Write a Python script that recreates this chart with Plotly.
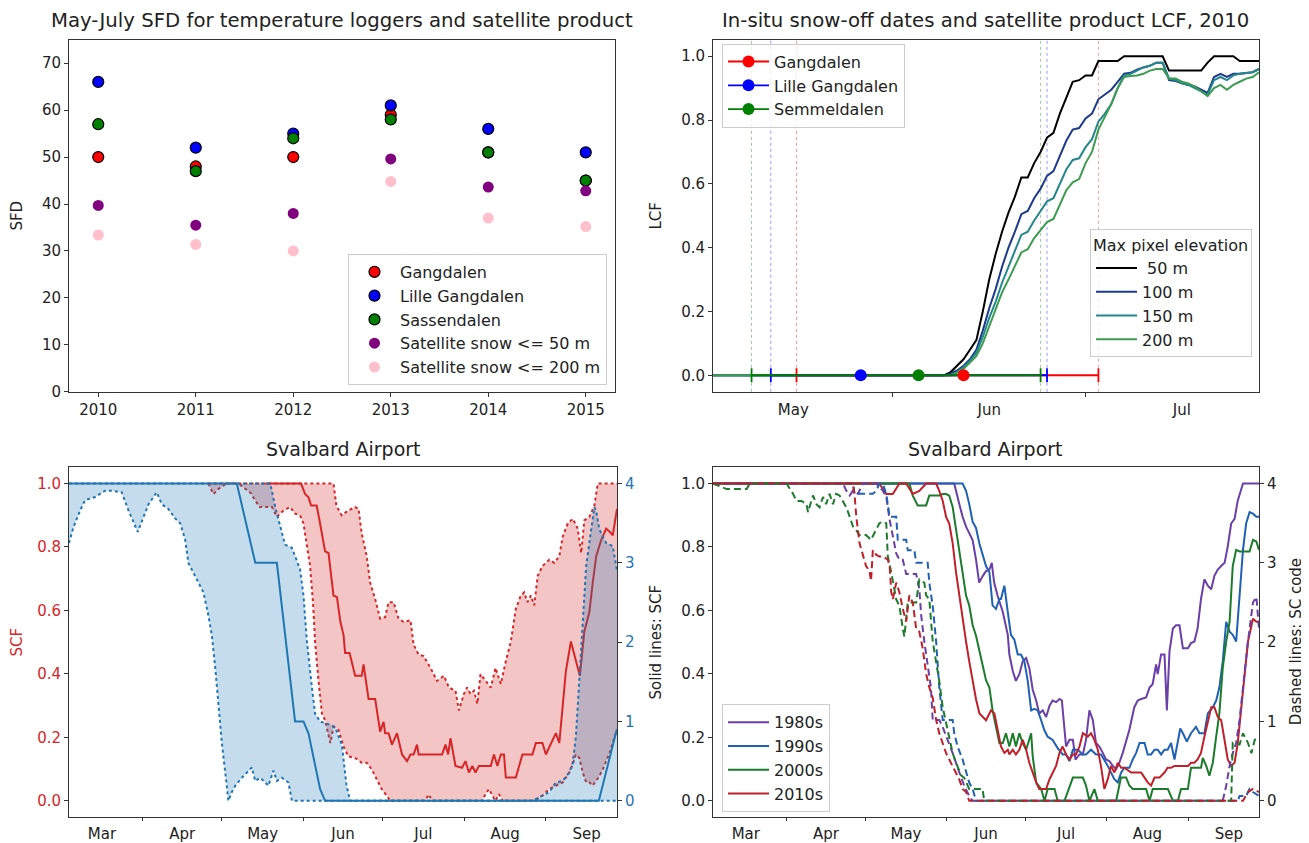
import pandas as pd
import plotly.graph_objects as go

W, H = 1309, 843
FONT = "DejaVu Sans"
OX = -7   # horizontal pixel offset correction

# ---------------- Panel 1: May-July SFD ----------------
years = [2010, 2011, 2012, 2013, 2014, 2015]
sfd_gangdalen = [50, 48, 50, 59, 51, 45]
sfd_lille_gangdalen = [66, 52, 55, 61, 56, 51]
sfd_sassendalen = [57, 47, 54, 58, 51, 45]
sfd_sat_50 = [39.7, 35.5, 38.0, 49.6, 43.6, 42.8]
sfd_sat_200 = [33.4, 31.4, 30.0, 44.8, 37.0, 35.2]

# ---------------- Panel 2: LCF 2010 ----------------
lcf_base = "2010-06-01"          # day 0
lcf_day = [-28] + list(range(8, 58))
lcf_50 = [0,
          0, 0.01, 0.03, 0.05, 0.08, 0.11, 0.2, 0.3, 0.38, 0.45,
          0.51, 0.56, 0.62, 0.62, 0.665, 0.7, 0.745, 0.76, 0.82, 0.87,
          0.92, 0.925, 0.94, 0.94, 0.985, 0.985, 0.985, 0.985, 1.0, 1.0,
          1.0, 1.0, 1.0, 1.0, 1.0, 0.955, 0.955, 0.955, 0.955, 0.955,
          0.955, 0.98, 1.0, 1.0, 1.0, 1.0, 0.985, 0.985, 0.985, 0.985]
lcf_100 = [0,
           0, 0.005, 0.015, 0.03, 0.05, 0.08, 0.14, 0.21, 0.27, 0.34,
           0.4, 0.45, 0.505, 0.515, 0.555, 0.585, 0.625, 0.64, 0.69, 0.735,
           0.77, 0.775, 0.805, 0.82, 0.865, 0.88, 0.895, 0.92, 0.945, 0.948,
           0.958, 0.965, 0.97, 0.98, 0.98, 0.925, 0.922, 0.915, 0.91, 0.905,
           0.895, 0.885, 0.935, 0.945, 0.935, 0.945, 0.945, 0.948, 0.95, 0.96]
lcf_150 = [0,
           0, 0, 0.01, 0.025, 0.045, 0.07, 0.12, 0.18, 0.23, 0.29,
           0.34, 0.39, 0.44, 0.45, 0.485, 0.515, 0.545, 0.555, 0.6, 0.645,
           0.675, 0.68, 0.715, 0.74, 0.795, 0.82, 0.85, 0.9, 0.94, 0.945,
           0.955, 0.965, 0.97, 0.98, 0.98, 0.93, 0.925, 0.915, 0.91, 0.9,
           0.89, 0.88, 0.925, 0.935, 0.925, 0.94, 0.945, 0.948, 0.95, 0.96]
lcf_200 = [0,
           0, 0, 0.008, 0.02, 0.04, 0.06, 0.1, 0.155, 0.21, 0.26,
           0.3, 0.345, 0.385, 0.395, 0.43, 0.455, 0.48, 0.49, 0.535, 0.58,
           0.605, 0.615, 0.665, 0.7, 0.77, 0.81, 0.85, 0.9, 0.935, 0.938,
           0.94, 0.945, 0.955, 0.96, 0.96, 0.93, 0.93, 0.92, 0.915, 0.905,
           0.89, 0.875, 0.9, 0.91, 0.895, 0.91, 0.92, 0.93, 0.935, 0.95]

site_names = ["Gangdalen", "Lille Gangdalen", "Semmeldalen"]
site_colors = ["red", "blue", "green"]
snowoff_date = ["2010-06-12", "2010-05-27", "2010-06-05"]
snowoff_early = ["2010-05-17", "2010-05-13", "2010-05-10"]
snowoff_late = ["2010-07-03", "2010-06-25", "2010-06-24"]

# ---------------- Panel 3: Svalbard Airport SCF / SC code ----------------
season_base = "2001-03-01"       # day 0 = 1 March
season_range = [3, 211]
scf_median = [(77.5, 1.0), (91.1, 1.0), (92.6, 0.967), (93.9, 0.957), (94.9, 0.931), (97.0, 0.931),
              (98.3, 0.874), (100.2, 0.786), (101.5, 0.781), (102.5, 0.719), (103.4, 0.647), (104.7, 0.642),
              (106.0, 0.564), (107.2, 0.523), (107.8, 0.466), (109.5, 0.466), (111.6, 0.394), (114.1, 0.394),
              (114.8, 0.43), (116.7, 0.321), (119.2, 0.321), (121.1, 0.218), (122.4, 0.249), (123.0, 0.213),
              (124.3, 0.213), (125.6, 0.177), (127.5, 0.213), (129.4, 0.146), (131.3, 0.125), (132.6, 0.146),
              (133.8, 0.146), (135.1, 0.177), (135.7, 0.146), (144.6, 0.146), (145.9, 0.177), (146.9, 0.146),
              (147.8, 0.197), (149.7, 0.11), (152.2, 0.104), (153.5, 0.125), (154.8, 0.089), (156.1, 0.11),
              (157.3, 0.089), (158.6, 0.11), (163.1, 0.11), (164.3, 0.146), (165.6, 0.11), (166.9, 0.146),
              (168.1, 0.146), (168.8, 0.073), (172.6, 0.073), (175.1, 0.146), (178.9, 0.146), (180.2, 0.182),
              (182.7, 0.182), (184.0, 0.146), (185.9, 0.182), (187.8, 0.213), (189.1, 0.182), (190.4, 0.295),
              (191.6, 0.409), (193.5, 0.502), (195.4, 0.44), (196.9, 0.394), (198.6, 0.533), (200.5, 0.595),
              (201.8, 0.688), (203.1, 0.771), (205.0, 0.822), (206.9, 0.858), (208.2, 0.848), (209.4, 0.837),
              (211.0, 0.92)]
scf_upper = [(55.9, 1.0), (103.4, 1.0), (104.5, 0.93), (106.5, 0.9), (109, 0.915), (111.6, 0.926), (112.9, 0.92),
             (114.1, 0.843), (116, 0.771), (117.3, 0.688), (119.2, 0.636), (121.1, 0.574), (123, 0.579),
             (124.3, 0.626), (126.2, 0.626), (128.1, 0.574), (130, 0.564), (132.6, 0.569), (133.8, 0.492),
             (135.7, 0.461), (137.6, 0.456), (140.2, 0.419), (142.7, 0.378), (145.3, 0.394), (147.2, 0.357),
             (149.7, 0.347), (151, 0.285), (152.9, 0.337), (154.1, 0.357), (155.4, 0.337), (156.7, 0.347),
             (158, 0.306), (159.2, 0.399), (161.1, 0.378), (163.1, 0.357), (164.9, 0.419), (166.9, 0.368),
             (168.8, 0.44), (170.7, 0.502), (172.6, 0.605), (174.5, 0.647), (175.8, 0.657), (177, 0.626),
             (178.3, 0.647), (179.6, 0.616), (180.9, 0.709), (182.7, 0.74), (185.3, 0.76), (187.2, 0.75),
             (189.1, 0.771), (190.4, 0.833), (192.3, 0.874), (194.2, 0.889), (196.1, 0.858), (197.4, 0.781),
             (198.6, 0.884), (200.5, 0.895), (202.4, 0.93), (203.7, 1.0), (211, 1.0)]
scf_lower = [(55.9, 1.0), (57.8, 0.967), (59.7, 0.983), (61.6, 0.993), (62.8, 1.0), (67.3, 1.0), (72, 0.97),
             (73.7, 0.946), (75.4, 0.926), (80, 0.926), (81.9, 0.895), (84.4, 0.915), (86.9, 0.926),
             (88.8, 0.905), (90.7, 0.9), (92, 0.874), (93.3, 0.807), (94.5, 0.74), (95.6, 0.626), (96.4, 0.502),
             (97.7, 0.378), (99, 0.275), (100.2, 0.254), (102.2, 0.182), (103.4, 0.233), (105.3, 0.223),
             (107.2, 0.171), (109, 0.14), (111.6, 0.135), (114.1, 0.12), (116, 0.12), (117.9, 0.099),
             (119.8, 0.068), (121.7, 0.037), (123.6, 0.016), (124.9, 0), (138.2, 0), (139.5, 0.02), (140.8, 0),
             (159.9, 0), (161.1, 0.021), (162.4, 0.037), (163.7, 0.016), (164.9, 0), (166.2, 0.021), (167.5, 0),
             (179.6, 0), (182.7, 0.016), (185.3, 0.037), (187.8, 0.048), (190.4, 0.058), (192.9, 0.089),
             (194.2, 0.114), (195.4, 0.146), (196.7, 0.135), (198, 0.089), (199.3, 0.058), (200.5, 0.058),
             (201.8, 0.048), (203.1, 0.063), (204.3, 0.078), (205.6, 0.099), (208.2, 0.151), (209.7, 0.192),
             (211, 0.223)]
code_median = [(3, 4), (66.7, 4), (73.7, 3.0), (81.9, 3.0), (88.8, 1.0), (92, 1.0), (93.9, 0.85), (96.4, 0.44),
               (98.3, 0.15), (100.2, 0), (204.1, 0), (210.7, 0.87), (211, 0.9)]
code_upper = [(3, 4), (79.4, 4), (81.3, 3.7), (83.8, 3.37), (85, 3.23), (87.6, 3.19), (88.8, 3.08), (90.7, 2.92),
              (92, 2.59), (93.3, 2.01), (95.2, 1.43), (96.4, 1.1), (98.3, 1.0), (100.2, 0.98), (102, 0.96),
              (104, 0.93), (106.6, 0.7), (108.3, 0.2), (109.7, 0), (178.9, 0), (182.7, 0.07), (185.3, 0.11),
              (187.8, 0.23), (190.4, 0.25), (192.9, 0.36), (194.2, 0.48), (195.4, 0.81), (196.7, 1.51),
              (198, 2.26), (199.3, 2.96), (201.2, 3.42), (202.4, 3.7), (203.1, 3.66), (204.3, 3.42),
              (206.9, 3.25), (209.4, 3.21), (210.7, 2.96), (211, 2.9)]
code_lower = [(3, 3.25), (4.7, 3.45), (7.2, 3.66), (9.1, 3.79), (12.9, 3.83), (16.7, 3.91), (19.2, 3.91),
              (23, 3.89), (25.6, 3.66), (27.5, 3.5), (29.1, 3.39), (31.3, 3.58), (33.2, 3.74), (36.3, 3.89),
              (38.2, 3.74), (40.7, 3.68), (43.3, 3.56), (45.2, 3.5), (47.1, 3.29), (48.3, 3.0), (49.6, 2.92),
              (52.1, 2.75), (54, 2.63), (55.9, 2.34), (57.2, 2.09), (58.5, 1.68), (59.7, 1.22), (61, 0.73),
              (62.3, 0.36), (63.5, 0), (64.8, 0.11), (66.1, 0.19), (68.6, 0.29), (70.5, 0.36), (72.4, 0.42),
              (73.7, 0.25), (75.6, 0.29), (77.5, 0.23), (78.7, 0.19), (80.6, 0.38), (81.9, 0.25), (83.8, 0.29),
              (86.3, 0.23), (87.6, 0), (211, 0)]

# ---------------- Panel 4: decadal SCF (solid) and SC code (dashed) ----------------
decades = ["1980s", "1990s", "2000s", "2010s"]
decade_colors = ["#6a3fa8", "#1f62b3", "#1b7d2c", "#c0202a"]
scf_1980s = [(3, 1.0), (94.9, 1.0), (96.8, 0.936), (98.1, 0.895), (99.4, 0.864), (101.9, 0.822), (103.2, 0.76),
             (104.4, 0.688), (105.8, 0.709), (107, 0.724), (108.3, 0.729), (109.2, 0.75), (110.1, 0.688),
             (111.4, 0.647), (113.4, 0.595), (115.3, 0.523), (115.9, 0.461), (117.2, 0.409), (118.4, 0.378),
             (119.7, 0.399), (121, 0.44), (122.3, 0.45), (123.5, 0.419), (124.8, 0.35), (126.1, 0.316),
             (127.3, 0.275), (128.6, 0.285), (129.9, 0.264), (131.2, 0.3), (132.4, 0.316), (133.7, 0.311),
             (135, 0.321), (135.9, 0.316), (137.5, 0.171), (138.8, 0.192), (140.1, 0.192), (141.1, 0.13),
             (142.6, 0.146), (143.9, 0.146), (145.1, 0.192), (146.4, 0.285), (147.7, 0.254), (148.9, 0.182),
             (150.2, 0.171), (151.5, 0.151), (152.7, 0.13), (154, 0.125), (155.3, 0.11), (156.6, 0.1),
             (157.8, 0.12), (159.1, 0.151), (160.4, 0.192), (161.6, 0.223), (163.5, 0.295), (164.8, 0.316),
             (166.1, 0.321), (168, 0.326), (169.3, 0.357), (170.5, 0.368), (171.8, 0.43), (172.4, 0.399),
             (173.7, 0.461), (175, 0.461), (175.9, 0.285), (176.9, 0.471), (178.2, 0.543), (179.4, 0.553),
             (180.7, 0.553), (182, 0.481), (183.9, 0.481), (185.1, 0.497), (186.4, 0.502), (187.6, 0.543),
             (188.9, 0.636), (190.2, 0.698), (191.5, 0.678), (192.8, 0.667), (194, 0.709), (195.3, 0.729),
             (196.6, 0.74), (197.9, 0.75), (199.1, 0.802), (200.4, 0.874), (201.7, 0.889), (202.9, 0.946),
             (204.9, 1.0), (211, 1.0)]
scf_1990s = [(3, 1.0), (98.1, 1.0), (99.4, 0.977), (100.6, 0.936), (101.9, 0.88), (103.2, 0.86), (104.5, 0.81),
             (105.8, 0.77), (107, 0.74), (108.3, 0.72), (109.5, 0.616), (110.8, 0.605), (112.1, 0.636),
             (112.7, 0.636), (114, 0.678), (115.3, 0.595), (116.5, 0.523), (117.8, 0.508), (119.1, 0.461),
             (120.3, 0.461), (121.6, 0.44), (122.9, 0.378), (124.2, 0.285), (125.4, 0.29), (126.7, 0.285),
             (128, 0.254), (129.2, 0.223), (130.5, 0.202), (132.4, 0.192), (134.3, 0.166), (136.2, 0.146),
             (137.5, 0.146), (138.8, 0.125), (140.1, 0.161), (142, 0.161), (143.9, 0.146), (145.1, 0.146),
             (147, 0.161), (148.9, 0.146), (150.8, 0.146), (152.1, 0.13), (153.4, 0.11), (154.6, 0.089),
             (155.9, 0.068), (157.2, 0.058), (158.5, 0.089), (159.7, 0.104), (161.6, 0.104), (162.9, 0.13),
             (164.2, 0.151), (165.5, 0.182), (167.4, 0.182), (168.6, 0.146), (169.9, 0.146), (171.2, 0.161),
             (172.4, 0.161), (173.7, 0.146), (175, 0.161), (176.2, 0.161), (177.5, 0.182), (178.8, 0.13),
             (180.1, 0.182), (181, 0.228), (182, 0.213), (183.5, 0.187), (185.1, 0.213), (187, 0.233),
             (188.3, 0.213), (190.2, 0.213), (191.5, 0.275), (193.4, 0.295), (194.7, 0.316), (195.9, 0.357),
             (197.2, 0.44), (198.5, 0.564), (199.8, 0.533), (201, 0.523), (202.3, 0.502), (203.6, 0.636),
             (204.9, 0.791), (206.1, 0.874), (207.4, 0.91), (208.7, 0.905), (210, 0.895), (211, 0.895)]
scf_2000s = [(3, 1.0), (77.8, 1.0), (79.1, 0.962), (81, 0.931), (84.2, 0.931), (85.4, 0.962), (89.2, 0.962),
             (90.5, 0.967), (91.8, 0.967), (93, 0.962), (94.3, 0.926), (95.6, 0.853), (96.8, 0.781),
             (98.1, 0.709), (99.4, 0.647), (100.6, 0.616), (101.9, 0.554), (103.2, 0.52), (104.5, 0.47),
             (105.8, 0.42), (107, 0.38), (108.3, 0.357), (109.5, 0.285), (110.8, 0.233), (112.1, 0.182),
             (113.4, 0.182), (114.6, 0.213), (115.9, 0.171), (117.2, 0.213), (118.4, 0.171), (119.7, 0.213),
             (121, 0.182), (122.3, 0.161), (124.2, 0.213), (124.8, 0.14), (126.1, 0.058), (128, 0.037),
             (129.3, 0), (130.5, 0.037), (133.1, 0.037), (134.3, 0), (136.9, 0), (140.1, 0.073), (143.9, 0.073),
             (145.1, 0.048), (146.4, 0), (148.3, 0.037), (149.6, 0), (156.6, 0), (158.4, 0.073), (160.4, 0.073),
             (161.6, 0.048), (162.9, 0.037), (168, 0.037), (169.3, 0), (170.5, 0.037), (176.3, 0.037),
             (178.2, 0), (180.1, 0), (181.3, 0.037), (183.9, 0.037), (185.1, 0.104), (188.9, 0.104),
             (189.6, 0.135), (190.9, 0.11), (192.1, 0.079), (193.4, 0.12), (194.7, 0.203), (195.9, 0.275),
             (197.2, 0.419), (198.5, 0.502), (199.8, 0.564), (201, 0.74), (202.3, 0.791), (203.6, 0.786),
             (207.4, 0.786), (208.7, 0.822), (210, 0.817), (211, 0.791)]
scf_2010s = [(3, 1.0), (66.4, 1.0), (67.7, 0.983), (69, 0.967), (71.5, 0.967), (72.8, 0.983), (74, 1.0),
             (76.6, 1.0), (77.8, 0.983), (79.1, 0.967), (81.6, 0.977), (82.9, 0.988), (84.2, 1.0), (88, 1.0),
             (89.2, 0.977), (90.5, 0.946), (91.8, 0.895), (93, 0.874), (94.3, 0.812), (95.6, 0.719),
             (96.8, 0.647), (98.1, 0.585), (99.4, 0.502), (100.6, 0.44), (101.9, 0.378), (103.2, 0.32),
             (104.5, 0.275), (105.8, 0.264), (107, 0.254), (108.3, 0.275), (108.9, 0.285), (110.2, 0.275),
             (111.4, 0.223), (112.7, 0.171), (114, 0.151), (115.3, 0.161), (115.9, 0.146), (117.2, 0.161),
             (118.4, 0.146), (119.7, 0.161), (121, 0.192), (122.3, 0.161), (123.5, 0.12), (124.8, 0.089),
             (126.1, 0.058), (127.3, 0.037), (129.9, 0.037), (131.2, 0.068), (132.4, 0.089), (133.7, 0.11),
             (135, 0.151), (136.2, 0.171), (137.5, 0.146), (138.8, 0.13), (140.1, 0.146), (141.3, 0.146),
             (142.6, 0.171), (143.9, 0.213), (145.8, 0.202), (147, 0.213), (148.3, 0.192), (149.6, 0.161),
             (150.8, 0.11), (152.1, 0.037), (153.4, 0.068), (154.6, 0.11), (155.9, 0.089), (157.2, 0.12),
             (158.5, 0.104), (159.7, 0.104), (162.3, 0.089), (166.1, 0.089), (167.4, 0.073), (168.6, 0.058),
             (169.9, 0.048), (171.2, 0.073), (173.1, 0.073), (175, 0.089), (176.2, 0.104), (177.5, 0.104),
             (178.8, 0.11), (184, 0.11), (185.1, 0.12), (186.4, 0.12), (187.6, 0.13), (188.9, 0.151),
             (190.2, 0.202), (191.5, 0.254), (192.8, 0.295), (194, 0.295), (195.3, 0.264), (196.6, 0.254),
             (197.9, 0.192), (199.1, 0.13), (200.4, 0.11), (201.7, 0.12), (202.9, 0.182), (204.2, 0.295),
             (205.5, 0.409), (206.8, 0.502), (208.7, 0.574), (210, 0.564), (211, 0.564)]
code_1980s = [(3, 4.0), (52.5, 4.0), (53.8, 3.91), (55.1, 3.85), (56.3, 3.91), (58.2, 3.87), (60.1, 4.0),
              (65.2, 4.0), (67.7, 3.91), (69, 3.83), (70.3, 3.54), (71.5, 3.33), (72.8, 3.12), (74, 3.04),
              (75.3, 3.04), (76.6, 2.86), (80.4, 2.86), (81.6, 2.67), (82.3, 2.34), (83.5, 2.01), (84.8, 1.72),
              (86, 1.43), (86.7, 1.02), (89.2, 1.02), (90.5, 0.93), (92.4, 0.77), (94.3, 0.6), (96.8, 0.36),
              (98.7, 0.19), (100.6, 0.06), (101.9, 0), (197.2, 0), (198.5, 0.19), (199.8, 0.44), (201, 0.6),
              (202.3, 0.73), (203.6, 1.02), (204.9, 1.43), (206.8, 2.01), (208.7, 2.5), (210, 2.57),
              (211, 2.17)]
code_1990s = [(3, 4), (56.3, 4), (56.9, 3.87), (63.9, 3.87), (65.2, 3.91), (66.4, 4), (67.7, 4), (69, 3.87),
              (70.3, 3.58), (72.8, 3.58), (73.4, 3.29), (76.6, 3.29), (77.2, 3.16), (79.7, 3.16), (80.4, 3.0),
              (84.8, 3.0), (85.4, 2.75), (86.7, 2.46), (88, 2.01), (88.6, 1.68), (89.2, 1.43), (90.5, 1.02),
              (94.3, 1.02), (94.9, 0.85), (96.2, 0.68), (98.1, 0.52), (99.4, 0.36), (100.6, 0.23),
              (101.9, 0.15), (103.2, 0), (202.9, 0), (203.6, 0.06), (206.1, 0.06), (207.4, 0.15),
              (208.7, 0.11), (211, 0.06)]
code_2000s = [(3, 4), (8.2, 3.93), (15.8, 3.93), (17, 4), (31, 4), (33.5, 3.87), (34.8, 3.78), (36.7, 3.78),
              (38.6, 3.74), (39.2, 3.64), (41.1, 3.85), (42.4, 3.74), (43.6, 3.7), (44.9, 3.83), (46.1, 3.74),
              (47.4, 3.87), (48.7, 3.74), (49.9, 3.87), (51.2, 3.85), (52.5, 3.78), (53.8, 3.7), (55.1, 3.58),
              (56.3, 3.46), (57.6, 3.41), (58.8, 3.35), (61.3, 3.35), (63.2, 3.29), (64.4, 3.37), (66.4, 3.5),
              (67.7, 3.52), (69, 3.5), (69.6, 3.08), (70.9, 2.88), (72.8, 2.54), (74, 2.46), (75.3, 2.17),
              (75.9, 2.07), (77.2, 2.5), (80.4, 2.5), (81.6, 2.79), (83.5, 2.75), (84.2, 2.59), (85.4, 2.54),
              (86.7, 2.01), (88, 1.76), (89.2, 1.51), (90.5, 1.18), (91.8, 0.97), (93, 0.77), (94.3, 0.6),
              (95.6, 0.48), (97.5, 0.32), (98.7, 0.29), (100.6, 0.15), (105.7, 0.15), (106.3, 0), (200.4, 0),
              (201, 0.73), (203.6, 0.71), (204.9, 0.85), (206.8, 0.73), (208.1, 0.6), (209.4, 0.77),
              (211, 0.79)]
code_2010s = [(3, 4), (56.3, 4), (56.9, 3.87), (57.6, 3.58), (58.8, 3.25), (60.1, 3.08), (61.3, 2.96),
              (62.6, 2.9), (63.2, 2.77), (63.9, 3.16), (65.2, 3.1), (66.4, 3.08), (67.7, 3.08), (69.6, 3.04),
              (70.3, 2.96), (70.9, 2.63), (71.5, 2.54), (72.8, 2.75), (74, 2.63), (75.3, 2.42), (76.6, 2.26),
              (77.8, 2.59), (79.1, 2.5), (80.4, 2.17), (81.6, 2.13), (82.9, 1.92), (84.2, 1.6), (85.4, 1.43),
              (86.7, 1.3), (88, 1.02), (89.2, 0.85), (91.8, 0.6), (94.3, 0.44), (96.8, 0.27), (98.1, 0.15),
              (99.4, 0.11), (100.6, 0), (204.9, 0), (206.8, 0.11), (208.7, 0.15), (211, 0.11)]


# ---------------- helpers ----------------
def to_dates(base, days):
    return pd.Timestamp(base) + pd.to_timedelta(list(days), unit="D")


def unzip(pairs, base=season_base):
    return to_dates(base, [p[0] for p in pairs]), [p[1] for p in pairs]


def px(x):
    return (x + OX) / W


def py(y):
    return 1 - y / H


def dom_x(a, b):
    return [px(a), px(b)]


def dom_y(top, bottom):
    return [py(bottom), py(top)]


fig = go.Figure()

# ---- Panel 1 ----
p1 = [("Gangdalen", sfd_gangdalen, "red", True),
      ("Lille Gangdalen", sfd_lille_gangdalen, "blue", True),
      ("Sassendalen", sfd_sassendalen, "green", True),
      ("Satellite snow <= 50 m", sfd_sat_50, "purple", False),
      ("Satellite snow <= 200 m", sfd_sat_200, "pink", False)]
for i, (nm, vals, col, edge) in enumerate(p1):
    fig.add_trace(go.Scatter(
        x=years, y=vals, mode="markers", name=nm, legend="legend", legendgroup=f"g1_{i}",
        marker=dict(size=11, color=col, line=dict(color="black", width=1.2 if edge else 0)),
        xaxis="x", yaxis="y"))

# ---- Panel 2 ----
lcf_dates = to_dates(lcf_base, lcf_day)
for nm, vals, col in [(" 50 m", lcf_50, "black"), ("100 m", lcf_100, "#1d3b8c"),
                      ("150 m", lcf_150, "#23878b"), ("200 m", lcf_200, "#3c9c50")]:
    fig.add_trace(go.Scatter(
        x=lcf_dates, y=vals, mode="lines", name=nm, legend="legend3", legendgroup=f"g3_{nm}",
        line=dict(color=col, width=2), xaxis="x2", yaxis="y2"))

shapes = []
# error bars (range of snow-off dates) drawn as lines with end caps
for nm, col, e, l in zip(site_names, site_colors, snowoff_early, snowoff_late):
    fig.add_trace(go.Scatter(
        x=[pd.Timestamp(e), pd.Timestamp(l)], y=[0, 0], mode="lines+markers", showlegend=False,
        line=dict(color=col, width=1.8),
        marker=dict(symbol="line-ns-open", size=10, color=col, line=dict(color=col, width=1.8)),
        xaxis="x2", yaxis="y2", hoverinfo="skip"))
    for d in (e, l):
        shapes.append(dict(type="line", xref="x2", yref="y2 domain", x0=d, x1=d, y0=0, y1=1,
                           line=dict(color=col, width=0.8, dash="dot"), opacity=0.5, layer="below"))
for nm, col, c in zip(site_names, site_colors, snowoff_date):
    fig.add_trace(go.Scatter(
        x=[pd.Timestamp(c)], y=[0], mode="lines+markers", name=nm, legend="legend2",
        legendgroup=f"g2_{nm}", line=dict(color=col, width=1.8),
        marker=dict(size=12, color=col), xaxis="x2", yaxis="y2"))

# ---- Panel 3 ----
RED, BLUE = "#d62728", "#1f77b4"
for pairs, kw in [(scf_lower, dict(fill=None)),
                  (scf_upper, dict(fill="tonexty", fillcolor="rgba(214,39,40,0.27)"))]:
    xx, yy = unzip(pairs)
    fig.add_trace(go.Scatter(x=xx, y=yy, mode="lines", showlegend=False,
                             line=dict(color=RED, width=2, dash="dot"), xaxis="x3", yaxis="y3", **kw))
xx, yy = unzip(scf_median)
fig.add_trace(go.Scatter(x=xx, y=yy, mode="lines", showlegend=False, line=dict(color=RED, width=2),
                         xaxis="x3", yaxis="y3"))
for pairs, kw in [(code_lower, dict(fill=None)),
                  (code_upper, dict(fill="tonexty", fillcolor="rgba(31,119,180,0.26)"))]:
    xx, yy = unzip(pairs)
    fig.add_trace(go.Scatter(x=xx, y=yy, mode="lines", showlegend=False,
                             line=dict(color=BLUE, width=2, dash="dot"), xaxis="x3", yaxis="y4", **kw))
xx, yy = unzip(code_median)
fig.add_trace(go.Scatter(x=xx, y=yy, mode="lines", showlegend=False, line=dict(color=BLUE, width=2),
                         xaxis="x3", yaxis="y4"))

# ---- Panel 4 ----
for nm, col, pairs in zip(decades, decade_colors, [scf_1980s, scf_1990s, scf_2000s, scf_2010s]):
    xx, yy = unzip(pairs)
    fig.add_trace(go.Scatter(x=xx, y=yy, mode="lines", name=nm, legend="legend4", legendgroup=f"g4_{nm}",
                             line=dict(color=col, width=2), xaxis="x4", yaxis="y5"))
for nm, col, pairs in zip(decades, decade_colors, [code_1980s, code_1990s, code_2000s, code_2010s]):
    xx, yy = unzip(pairs)
    fig.add_trace(go.Scatter(x=xx, y=yy, mode="lines", showlegend=False,
                             line=dict(color=col, width=2, dash="7px,4px"), xaxis="x4", yaxis="y6"))

# ---------------- layout ----------------
TXT = "#222"
TICK = 15
base_ax = dict(showline=True, linecolor="#333", linewidth=1, mirror=True, ticks="outside", ticklen=4,
               tickwidth=1, tickcolor="#333", showgrid=False, zeroline=False,
               tickfont=dict(family=FONT, size=TICK, color=TXT))
date_ax = dict(base_ax, type="date", dtick="M1", tickformat="%b", ticklabelmode="period")
frac_ax = dict(base_ax, range=[-0.052, 1.052], dtick=0.2, tick0=0, tickformat=".1f")
code_ax = dict(base_ax, range=[-0.208, 4.208], dtick=1, tick0=0, showline=False)

season_dates = to_dates(season_base, season_range)
ttl = lambda t, c=TXT: dict(text=t, font=dict(family=FONT, size=15, color=c))

D1x, D1y = dom_x(68, 614), dom_y(32, 388)
D2x, D2y = dom_x(712, 1258), dom_y(32, 388)
D3x, D3y = dom_x(68, 616), dom_y(464, 818)
D4x, D4y = dom_x(712, 1258), dom_y(464, 818)

legend_style = dict(bgcolor="rgba(255,255,255,0.8)", bordercolor="#cccccc", borderwidth=1,
                    font=dict(family=FONT, size=16, color=TXT), tracegroupgap=0, itemwidth=41)

fig.update_layout(
    width=W, height=H, margin=dict(l=0, r=0, t=0, b=0),
    paper_bgcolor="white", plot_bgcolor="white",
    font=dict(family=FONT, size=TICK, color=TXT),
    xaxis=dict(base_ax, domain=D1x, anchor="y", range=[2009.7, 2015.3], tickvals=years),
    yaxis=dict(base_ax, domain=D1y, anchor="x", range=[0, 75], dtick=10, title=ttl("SFD")),
    xaxis2=dict(date_ax, domain=D2x, anchor="y2", range=[lcf_dates[0], lcf_dates[-1]]),
    yaxis2=dict(frac_ax, domain=D2y, anchor="x2", title=ttl("LCF")),
    xaxis3=dict(date_ax, domain=D3x, anchor="y3", range=list(season_dates), ticklen=3),
    yaxis3=dict(frac_ax, domain=D3y, anchor="x3", title=ttl("SCF", RED),
                tickfont=dict(family=FONT, size=TICK, color=RED)),
    yaxis4=dict(code_ax, overlaying="y3", anchor="x3", side="right",
                tickfont=dict(family=FONT, size=TICK, color=BLUE)),
    xaxis4=dict(date_ax, domain=D4x, anchor="y5", range=list(season_dates), ticklen=3),
    yaxis5=dict(frac_ax, domain=D4y, anchor="x4", title=ttl("Solid lines: SCF")),
    yaxis6=dict(code_ax, overlaying="y5", anchor="x4", side="right"),
    legend=dict(legend_style, x=px(606), y=py(381), xanchor="right", yanchor="bottom"),
    legend2=dict(legend_style, x=px(721), y=py(36), xanchor="left", yanchor="top"),
    legend3=dict(legend_style, x=px(1251), y=py(353), xanchor="right", yanchor="bottom",
                 title=dict(text="Max pixel elevation", font=dict(family=FONT, size=16, color=TXT))),
    legend4=dict(legend_style, x=px(721), y=py(813), xanchor="left", yanchor="bottom"),
    shapes=shapes,
)

titles = [("May-July SFD for temperature loggers and satellite product", D1x, 13, 19.7),
          ("In-situ snow-off dates and satellite product LCF, 2010", D2x, 13, 19.7),
          ("Svalbard Airport", D3x, 446, 19), ("Svalbard Airport", D4x, 446, 19)]
for text, dx, ypx, fs in titles:
    fig.add_annotation(text=text, x=(dx[0] + dx[1]) / 2, y=py(ypx), xref="paper", yref="paper",
                       showarrow=False, xanchor="center", yanchor="middle",
                       font=dict(family=FONT, size=fs, color=TXT))
# right-hand axis title of the lower-right panel
fig.add_annotation(text="Dashed lines: SC code", x=px(1295), y=(D4y[0] + D4y[1]) / 2, xref="paper",
                   yref="paper", showarrow=False, textangle=-90, xanchor="center", yanchor="middle",
                   font=dict(family=FONT, size=15, color=TXT))

fig.write_html("out.html")
